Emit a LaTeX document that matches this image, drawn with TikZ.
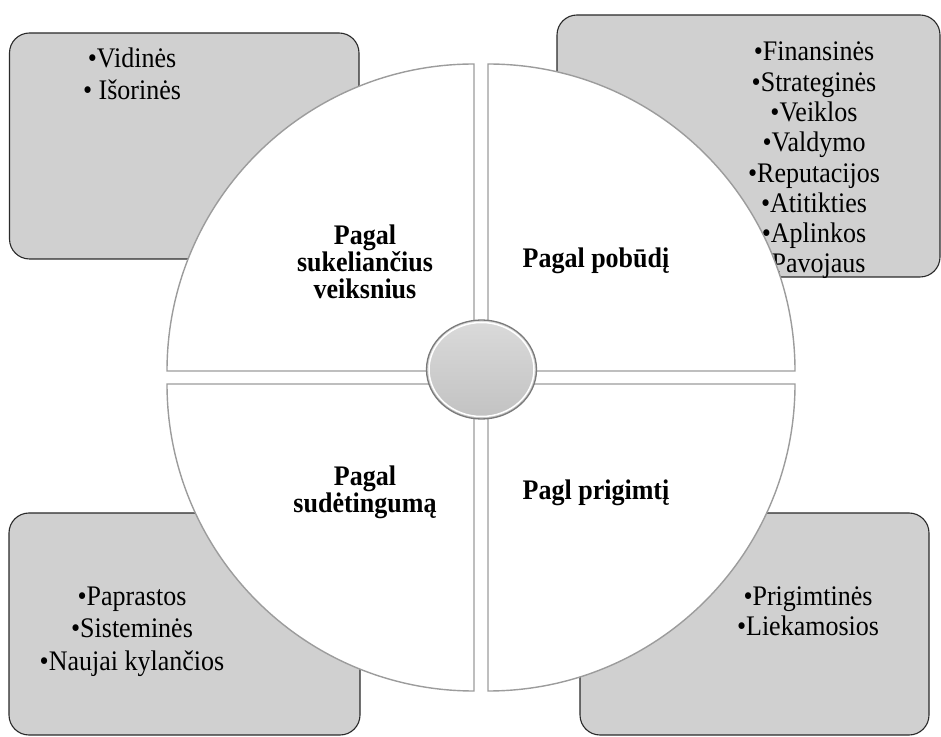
\documentclass[tikz,border=0pt]{standalone}
\usepackage{fontspec}
\setmainfont{Liberation Serif}
\usetikzlibrary{shapes.geometric}

\definecolor{boxfill}{HTML}{D0D0D0}
\definecolor{boxline}{HTML}{2A2A2A}
\definecolor{sectorline}{HTML}{9C9C9C}
\definecolor{hubtop}{HTML}{DADADA}
\definecolor{hubbottom}{HTML}{C2C2C2}
\definecolor{hubline}{HTML}{7A7A7A}

\tikzset{
  catbox/.style={draw=boxline, fill=boxfill, line width=1.1pt, rounded corners=20pt},
  sector/.style={draw=sectorline, fill=white, line width=1.4pt, line join=miter},
  % anchor=base sits on the last line of a multi-line node
  listtext/.style={align=center, anchor=base, inner sep=0pt, yscale=1.09, transform shape,
    font=\fontsize{26}{28}\selectfont},
  label/.style={align=center, anchor=center, inner sep=0pt, yscale=1.09, transform shape,
    font=\fontsize{26}{24.8}\selectfont\bfseries}
}

\begin{document}
\begin{tikzpicture}[x=1pt, y=1pt]
\useasboundingbox (0,0) rectangle (941,736);

% corner boxes holding the lists
\draw[catbox] (9.5,477) rectangle (359,703);
\draw[catbox] (557,459) rectangle (940,721);
\draw[catbox] (9,1) rectangle (360,223);
\draw[catbox] (580,1) rectangle (929,223);

% lists inside the boxes
\node[listtext, font=\fontsize{26}{29.4}\selectfont] (ltl) at (132,636) {•Vidinės\\• Išorinės};
\node[listtext, font=\fontsize{26}{27.8}\selectfont] (ltr) at (814,463)
  {•Finansinės\\•Strateginės\\•Veiklos\\•Valdymo\\•Reputacijos\\•Atitikties\\•Aplinkos\\•Pavojaus};
\node[listtext, font=\fontsize{26}{29.8}\selectfont] (lbl) at (132,66)
  {•Paprastos\\•Sisteminės\\•Naujai kylančios};
\node[listtext, font=\fontsize{26}{27.5}\selectfont] (lbr) at (808,101)
  {•Prigimtinės\\•Liekamosios};

% four quarter sectors of the wheel
\draw[sector] (474,365) -- ++(0,307) arc[start angle=90, end angle=180, radius=307] -- cycle;
\draw[sector] (488,365) -- ++(307,0) arc[start angle=0, end angle=90, radius=307] -- cycle;
\draw[sector] (474,352) -- ++(-307,0) arc[start angle=180, end angle=270, radius=307] -- cycle;
\draw[sector] (488,352) -- ++(0,-307) arc[start angle=270, end angle=360, radius=307] -- cycle;

% hub in the middle
\node[ellipse, draw=hubline, line width=1.3pt, top color=hubtop, bottom color=hubbottom,
      minimum width=110pt, minimum height=99pt, inner sep=0pt] (hub) at (481.5,366.5) {};
\draw[white, line width=1.5pt] (hub.center) ellipse [x radius=52.5, y radius=47];

% sector titles
\node[label] (ttl) at (365,474) {Pagal\\sukeliančius\\veiksnius};
\node[label] (ttr) at (596,475) {Pagal pobūdį};
\node[label] (tbl) at (365,243.5) {Pagal\\sudėtingumą};
\node[label] (tbr) at (596,243.5) {Pagl prigimtį};
\end{tikzpicture}
\end{document}
